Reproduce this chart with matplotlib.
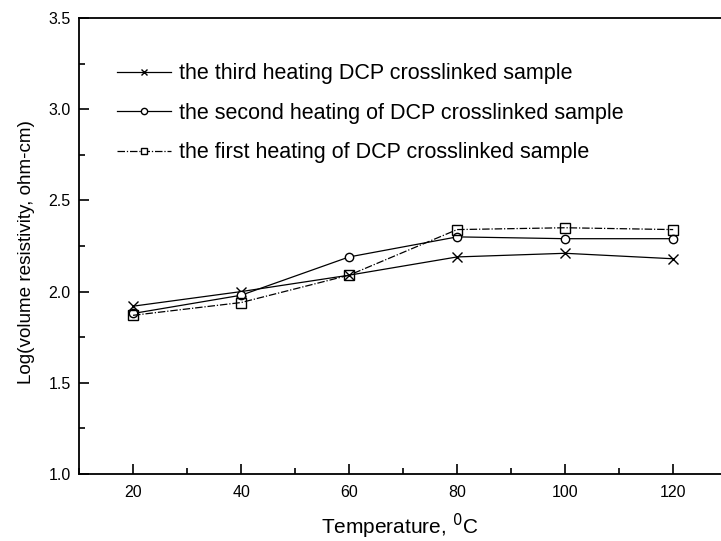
import matplotlib.pyplot as plt
from matplotlib.ticker import MultipleLocator
from matplotlib.lines import Line2D

plt.rcParams['font.family'] = ['Liberation Sans', 'DejaVu Sans']

temperature = [20, 40, 60, 80, 100, 120]
third_heating = [1.92, 2.00, 2.09, 2.19, 2.21, 2.18]
second_heating = [1.88, 1.98, 2.19, 2.30, 2.29, 2.29]
first_heating = [1.87, 1.94, 2.09, 2.34, 2.35, 2.34]

labels = [
    "the third heating DCP crosslinked sample",
    "the second heating of DCP crosslinked sample",
    "the first heating of DCP crosslinked sample",
]

fig = plt.figure(figsize=(7.21, 5.41), dpi=100)
ax = fig.add_axes([0.1096, 0.1238, 0.899, 0.843])

first_ls = (0, (6, 1.5, 1, 1.5))
ax.plot(temperature, third_heating, color="black", lw=0.9, marker="x",
        ms=7, mew=1.0)
ax.plot(temperature, second_heating, color="black", lw=0.9, marker="o",
        ms=6, mfc="white", mew=1.0)
ax.plot(temperature, first_heating, color="black", lw=0.9, ls=first_ls,
        marker="s", ms=6.5, mfc="none", mew=1.0)

ax.set_xlim(10, 130)
ax.set_ylim(1.0, 3.5)
ax.xaxis.set_major_locator(MultipleLocator(20))
ax.xaxis.set_minor_locator(MultipleLocator(10))
ax.yaxis.set_major_locator(MultipleLocator(0.5))
ax.yaxis.set_minor_locator(MultipleLocator(0.25))
ax.tick_params(which="both", direction="in", top=False, right=False,
               labelsize=11.5, width=1.2)
ax.tick_params(axis="x", pad=8)
ax.tick_params(axis="y", pad=6)
ax.tick_params(which="major", length=7)
ax.tick_params(which="minor", length=4)
for side in ["left", "bottom", "top"]:
    ax.spines[side].set_linewidth(1.3)

ax.set_xlabel("Temperature, $^{0}$C", fontsize=15)
ax.set_ylabel("Log(volume resistivity, ohm-cm)", fontsize=13.6)
ax.xaxis.set_label_coords(0.495, -0.083)
ax.yaxis.set_label_coords(-0.068, 0.487)

# smaller markers in the key than on the curves
handles = [
    Line2D([], [], color="black", lw=0.9, marker="x", ms=5, mew=1.0),
    Line2D([], [], color="black", lw=0.9, marker="o", ms=4.5, mfc="white", mew=1.0),
    Line2D([], [], color="black", lw=0.9, ls=first_ls, marker="s", ms=4.5,
           mfc="white", mew=1.0),
]
ax.legend(handles, labels, loc="upper left", bbox_to_anchor=(0.028, 0.943),
          frameon=False, fontsize=15.5, handlelength=2.55, handletextpad=0.35,
          labelspacing=0.86)

fig.savefig("out.png", dpi=100)
